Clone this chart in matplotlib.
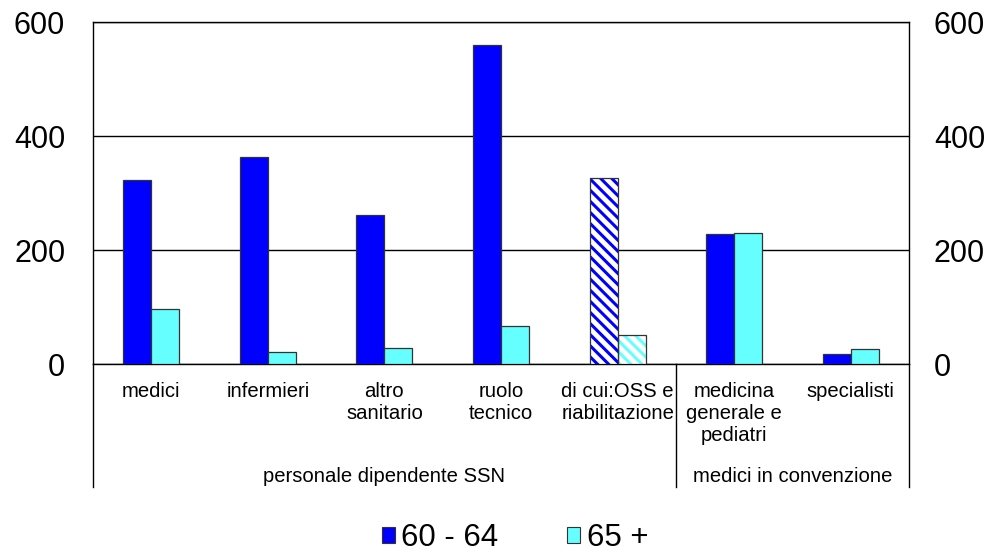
import matplotlib
matplotlib.use("Agg")
import matplotlib.pyplot as plt
import numpy as np
from matplotlib.patches import Patch
from matplotlib.lines import Line2D

plt.rcParams['font.family'] = ['Liberation Sans', 'DejaVu Sans']
plt.rcParams['hatch.linewidth'] = 2.2

categories = ["medici", "infermieri", "altro\nsanitario", "ruolo\ntecnico",
              "di cui:OSS e\nriabilitazione", "medicina\ngenerale e\npediatri", "specialisti"]
groups = ["personale dipendente SSN", "medici in convenzione"]
group_spans = [(0, 4), (5, 6)]
series_names = ["60 - 64", "65 +"]
v_60_64 = [323, 363, 261, 560, 326, 228, 18]
v_65 = [97, 21, 28, 67, 51, 230, 26]
hatched_idx = 4
yticks = [0, 200, 400, 600]

blue = "#0000FF"
cyan = "#66FFFF"

fig = plt.figure(figsize=(9.92, 5.52), dpi=100)
ax = fig.add_axes([93/992, 1-364/552, (909-93)/992, (364-22)/552])

x = np.arange(len(categories))
w = 0.24
for i in range(len(categories)):
    for k, (vals, col) in enumerate([(v_60_64, blue), (v_65, cyan)]):
        xp = x[i] + (k - 0.5) * w
        if i == hatched_idx:
            ax.bar(xp, vals[i], w, color="white", edgecolor=col, hatch="\\\\\\", linewidth=0, zorder=3)
            ax.bar(xp, vals[i], w, fill=False, edgecolor="#333333", linewidth=0.9, zorder=4)
        else:
            ax.bar(xp, vals[i], w, color=col, edgecolor="#333333", linewidth=0.9, zorder=3)

ax.set_xlim(-0.5, len(categories) - 0.5)
ax.set_ylim(0, 600)
ax.set_yticks(yticks)
ax.yaxis.grid(True, color="black", linewidth=1.0, zorder=0)
ax.set_axisbelow(True)
ax.tick_params(axis="y", length=0, pad=20, labelsize=22)
ax.set_xticks([])
for s in ax.spines.values():
    s.set_color("black")
    s.set_linewidth(1.0)

ax2 = ax.twinx()
ax2.set_ylim(0, 600)
ax2.set_yticks(yticks)
ax2.tick_params(axis="y", length=0, pad=18, labelsize=22)
for s in ax2.spines.values():
    s.set_visible(False)

trans = ax.get_xaxis_transform()
for i, lab in enumerate(categories):
    ax.text(x[i], (364-382)/342, lab, transform=trans, ha="center", va="top",
            fontsize=14.6, linespacing=1.2)
for g, (a, b) in zip(groups, group_spans):
    ax.text((a + b) / 2, (364-482)/342, g, transform=trans, ha="center", va="baseline",
            fontsize=14.6)

for xb in [-0.5, 4.5, 6.5]:
    ax.add_line(Line2D([xb, xb], [0, (364-487)/342], transform=trans, color="black",
                       linewidth=1.0, clip_on=False))

handles = [Patch(facecolor=blue, edgecolor="#333333", linewidth=0.8, label=series_names[0]),
           Patch(facecolor=cyan, edgecolor="#333333", linewidth=0.8, label=series_names[1])]
fig.legend(handles=handles, loc="center", bbox_to_anchor=(515/992, 1-538/552), ncol=2,
           frameon=False, fontsize=22.5, handlelength=0.42, handleheight=0.42,
           handletextpad=0.2, columnspacing=2.2, borderaxespad=0)

fig.savefig("out.png", dpi=100)
